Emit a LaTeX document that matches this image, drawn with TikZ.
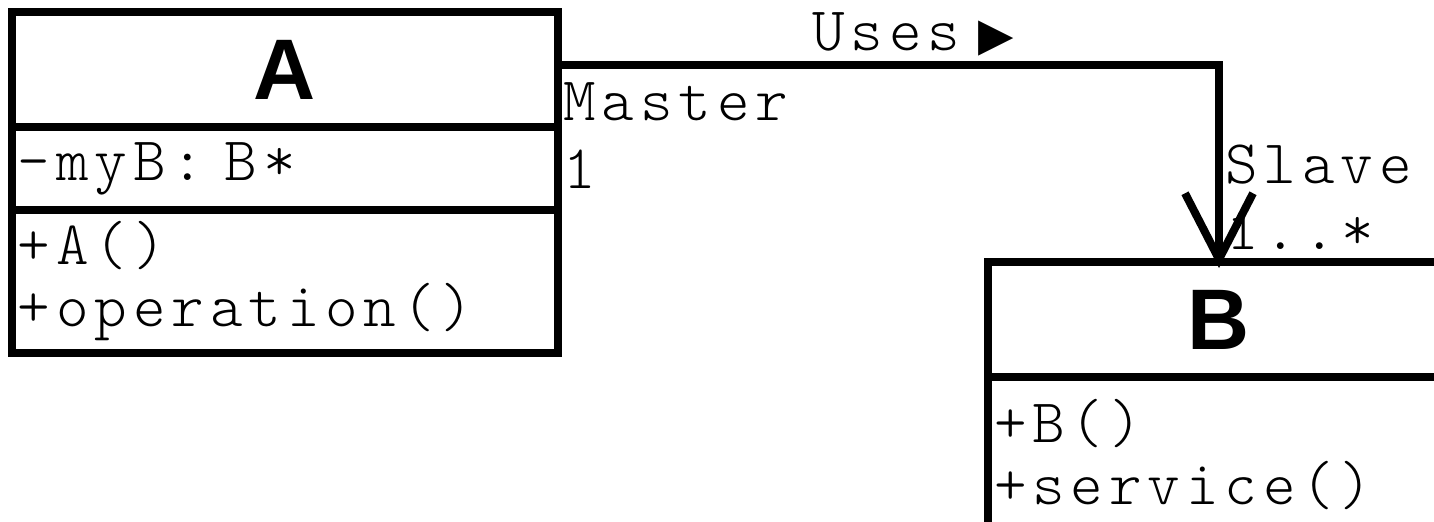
\documentclass[tikz,border=0pt]{standalone}
\usepackage{fontspec}
\setmonofont{Latin Modern Mono Light}[LetterSpace=9.5]
\newfontfamily\classfont{Liberation Sans}
\newfontfamily\symfont{DejaVu Sans}
\usetikzlibrary{positioning,arrows.meta}

\tikzset{
  uml/.style={draw, line width=4pt, outer sep=0pt, inner ysep=0pt, inner xsep=3pt},
  classname/.style={uml, minimum height=57.5pt, font=\classfont\bfseries\fontsize{43}{43}\selectfont},
  members/.style={uml, align=left, font=\ttfamily\fontsize{31}{31}\selectfont},
  role/.style={inner sep=0pt, font=\ttfamily\fontsize{31}{31}\selectfont},
  assoc/.style={line width=4pt, shorten >=-3pt, -{Straight Barb[length=33pt,width=34pt]}}
}

\begin{document}
\begin{tikzpicture}[x=0.5pt, y=-0.5pt]
\useasboundingbox (0,0) rectangle (1434,521);
\clip (0,0) rectangle (1434,521);

% Class A
\node[classname, minimum width=273pt] (Atitle) at (285,69.5) {A};
\node[members, minimum height=41.5pt, text width=267pt, below=0pt of Atitle] (Aattr) {-myB: B*};
\node[members, minimum height=71.5pt, text width=267pt, below=0pt of Aattr] (Aops) {+A()\\+operation()};

% Class B
\node[classname, minimum width=231pt] (Btitle) at (1219,319.5) {B};
\node[members, minimum height=78pt, text width=225pt, below=0pt of Btitle] (Bops) {+B()\\+service()};

% Association
\draw[assoc] ([yshift=2.25pt]Atitle.east) -| (Btitle.north);

% Labels
\node[role, anchor=base west] (uses) at (812,50) {Uses\hspace{9pt}{\symfont\fontsize{23}{23}\selectfont ▶}};
\node[role, anchor=base west] (master) at (563,120) {Master};
\node[role, anchor=base west] (multA) at (563,188) {1};
\node[role, anchor=base west] (slave) at (1225,183) {Slave};
\node[role, anchor=base west] (multB) at (1226,249) {1..*};
\end{tikzpicture}
\end{document}
